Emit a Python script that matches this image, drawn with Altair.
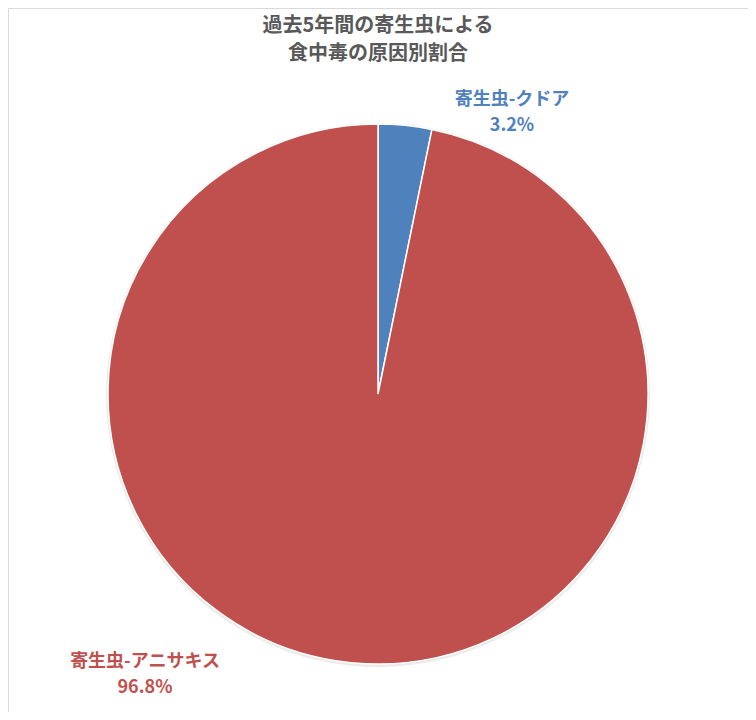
import altair as alt
import pandas as pd

categories = ["寄生虫-クドア", "寄生虫-アニサキス"]
percents = [3.2, 96.8]
order = [1, 2]
colors = ["#4F81BD", "#C0504D"]
title_lines = ["過去5年間の寄生虫による", "食中毒の原因別割合"]

df = pd.DataFrame({"category": categories, "pct": percents, "order": order})

FONT = "Noto Sans CJK JP"
CX, CY = 370, 386

base = alt.Chart(df)

color_scale = alt.Scale(domain=categories, range=colors)

shadow = base.mark_arc(outerRadius=272, color="#000000", opacity=0.08).encode(
    theta=alt.Theta("pct:Q", stack=True),
    order=alt.Order("order:Q"),
    x=alt.value(CX),
    y=alt.value(CY + 1),
)

pie = base.mark_arc(outerRadius=270, stroke="white", strokeWidth=1.5).encode(
    theta=alt.Theta("pct:Q", stack=True),
    order=alt.Order("order:Q"),
    color=alt.Color("category:N", scale=color_scale, legend=None),
    x=alt.value(CX),
    y=alt.value(CY),
)

def label_layer(cat, x, y):
    return (
        base.transform_filter(alt.datum.category == cat)
        .transform_calculate(label="datum.category + '\\n' + format(datum.pct, '.1f') + '%'")
        .mark_text(font=FONT, fontSize=18, fontWeight="bold", lineBreak="\n",
                   lineHeight=26, align="center", baseline="middle")
        .encode(
            text="label:N",
            color=alt.Color("category:N", scale=color_scale, legend=None),
            x=alt.value(x),
            y=alt.value(y),
        )
    )

lab1 = label_layer(categories[0], 504, 92)
lab2 = label_layer(categories[1], 137, 654)

chart = (
    alt.layer(shadow, pie, lab1, lab2)
    .properties(
        width=740,
        height=704,
        title=alt.TitleParams(
            text=title_lines,
            font=FONT,
            fontSize=20,
            fontWeight="bold",
            color="#595959",
            anchor="middle",
            lineHeight=28,
            dy=60,
        ),
        autosize=alt.AutoSizeParams(type="none"),
        padding=0,
    )
    .configure_view(stroke="#D9D9D9", strokeWidth=1)
)

chart.save("out.html", embed_options={"renderer": "svg", "actions": False})
